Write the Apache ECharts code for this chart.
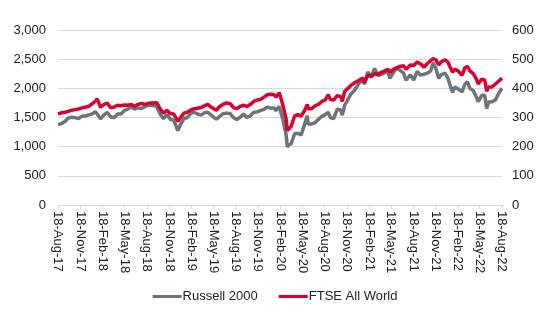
<!DOCTYPE html>
<html><head><meta charset="utf-8">
<script src="https://cdn.jsdelivr.net/npm/echarts@6/dist/echarts.min.js"></script>
<style>html,body{margin:0;padding:0;background:#fff}#c{width:550px;height:330px}</style>
</head><body><div id="c"></div>
<script>
var sampleDates = ["2017-08-18","2017-09-01","2017-09-15","2017-09-29","2017-10-13","2017-10-27","2017-11-10","2017-11-24","2017-12-08","2017-12-22",
"2018-01-05","2018-01-19","2018-01-26","2018-02-09","2018-02-23","2018-03-09","2018-03-23","2018-04-06","2018-04-20","2018-05-04","2018-05-18",
"2018-06-01","2018-06-15","2018-06-29","2018-07-13","2018-07-27","2018-08-10","2018-08-31","2018-09-14","2018-09-28","2018-10-12","2018-10-26",
"2018-11-09","2018-11-23","2018-12-07","2018-12-24","2019-01-04","2019-01-18","2019-02-01","2019-02-15","2019-03-01","2019-03-15","2019-03-29",
"2019-04-12","2019-04-26","2019-05-10","2019-05-31","2019-06-14","2019-06-28","2019-07-12","2019-07-26","2019-08-09","2019-08-23","2019-09-06",
"2019-09-20","2019-10-04","2019-10-18","2019-11-01","2019-11-15","2019-11-29","2019-12-13","2019-12-27","2020-01-10","2020-01-24","2020-01-31",
"2020-02-14","2020-02-21","2020-02-28","2020-03-06","2020-03-13","2020-03-18","2020-03-23","2020-04-03","2020-04-17","2020-04-30","2020-05-14",
"2020-05-29","2020-06-08","2020-06-12","2020-06-26","2020-07-10","2020-07-24","2020-08-07","2020-08-21","2020-09-02","2020-09-11","2020-09-25",
"2020-10-09","2020-10-23","2020-10-30","2020-11-09","2020-11-20","2020-12-04","2020-12-18","2021-01-08","2021-01-22","2021-01-29","2021-02-12",
"2021-02-26","2021-03-12","2021-03-26","2021-04-09","2021-04-23","2021-05-07","2021-05-14","2021-05-28","2021-06-08","2021-06-25","2021-07-09",
"2021-07-19","2021-08-06","2021-08-20","2021-09-03","2021-09-17","2021-10-01","2021-10-15","2021-10-29","2021-11-08","2021-11-19","2021-12-01",
"2021-12-10","2021-12-27","2022-01-07","2022-01-21","2022-01-27","2022-02-04","2022-02-18","2022-03-07","2022-03-18","2022-03-29","2022-04-08",
"2022-04-22","2022-05-06","2022-05-12","2022-05-27","2022-06-08","2022-06-16","2022-06-24","2022-07-08","2022-07-22","2022-08-05","2022-08-18"];
var russell2000 = [1378,1395,1430,1490,1505,1498,1480,1520,1525,1545,
1560,1600,1605,1477,1545,1585,1510,1500,1560,1560,1620,
1645,1680,1645,1665,1655,1685,1715,1705,1690,1560,1480,
1550,1470,1450,1275,1380,1480,1500,1570,1590,1560,1540,
1580,1590,1540,1470,1520,1565,1575,1570,1500,1465,1505,
1560,1500,1530,1590,1595,1620,1640,1675,1660,1665,1615,
1690,1680,1480,1450,1210,994,1030,1050,1220,1230,1200,
1395,1530,1390,1390,1410,1470,1520,1550,1590,1500,1480,
1640,1630,1540,1710,1790,1900,1960,2090,2160,2070,2280,
2200,2340,2220,2240,2270,2270,2170,2270,2340,2310,2260,
2140,2230,2140,2290,2230,2240,2260,2300,2440,2340,2170,
2230,2260,2180,1990,1930,2020,1990,1940,2070,2110,2000,
1960,1840,1770,1880,1880,1655,1765,1770,1800,1920,2000];
var ftseAllWorld = [312,316,318,321,325,327,329,333,335,338,
347,356,364,335,345,349,333,336,342,340,343,
342,345,338,345,348,345,350,350,351,330,315,
325,314,312,287,300,315,318,326,330,332,334,
340,345,335,325,338,345,350,348,335,330,338,
342,338,345,355,360,362,370,378,380,378,370,
385,381,345,340,295,255,250,270,305,310,305,
325,345,330,330,340,345,355,360,378,362,360,
375,372,355,390,398,410,418,428,435,420,445,
440,450,448,455,460,465,455,465,470,475,478,
465,480,478,490,484,472,485,495,502,498,480,
490,498,490,465,455,466,460,445,470,475,460,
450,430,415,432,428,390,405,405,415,425,435];
var yLeftTicks = [0,500,1000,1500,2000,2500,3000];
var yRightTicks = [0,100,200,300,400,500,600];

var MONTHS = ['Jan','Feb','Mar','Apr','May','Jun','Jul','Aug','Sep','Oct','Nov','Dec'];
function pad(n){return (n<10?'0':'')+n;}
var categories = [];
var d = new Date(Date.UTC(2017,7,18)), end = new Date(Date.UTC(2022,7,18));
while (d <= end) {
  categories.push(d.getUTCFullYear()+'-'+pad(d.getUTCMonth()+1)+'-'+pad(d.getUTCDate()));
  d = new Date(d.getTime()+86400000);
}
function buildSeries(vals){
  var m = {}; sampleDates.forEach(function(s,i){m[s]=vals[i];});
  return categories.map(function(c){return m[c]===undefined?null:m[c];});
}
function isLabelDay(idx, val){
  var p = val.split('-'); var mo = +p[1], dd = +p[2];
  return dd===18 && (mo===8||mo===11||mo===2||mo===5);
}
function fmtDate(val){
  var p = val.split('-');
  return +p[2]+'-'+MONTHS[+p[1]-1]+'-'+p[0].slice(2);
}
var chart = echarts.init(document.getElementById('c'));
var font = 'Liberation Sans, Arial, sans-serif';
chart.setOption({
  animation:false,
  grid:{left:58,right:48,top:30,bottom:125,containLabel:false},
  legend:{bottom:22,left:'center',itemWidth:29,itemHeight:3,itemGap:21,icon:'rect',
    textStyle:{fontFamily:font,fontSize:13,color:'#222',padding:[0,0,0,-4]},
    data:['Russell 2000','FTSE All World']},
  xAxis:{type:'category',data:categories,boundaryGap:false,
    axisLine:{lineStyle:{color:'#d9d9d9'}},
    axisTick:{interval:isLabelDay,length:4,lineStyle:{color:'#d9d9d9'}},
    axisLabel:{interval:isLabelDay,rotate:-90,formatter:fmtDate,margin:6,
      fontFamily:font,fontSize:13,color:'#222'}},
  yAxis:[
    {type:'value',min:yLeftTicks[0],max:yLeftTicks[yLeftTicks.length-1],interval:500,
     axisLine:{show:false},axisTick:{show:false},
     splitLine:{lineStyle:{color:'#d9d9d9'}},
     axisLabel:{margin:12,fontFamily:font,fontSize:13,color:'#222',
       formatter:function(v){return v.toLocaleString('en-US');}}},
    {type:'value',min:yRightTicks[0],max:yRightTicks[yRightTicks.length-1],interval:100,
     axisLine:{show:false},axisTick:{show:false},splitLine:{show:false},
     axisLabel:{margin:10,fontFamily:font,fontSize:13,color:'#222'}}
  ],
  series:[
    {name:'Russell 2000',type:'line',yAxisIndex:0,data:buildSeries(russell2000),connectNulls:true,
     showSymbol:false,symbol:'none',lineStyle:{color:'#6b737b',width:3.5},itemStyle:{color:'#6b737b'}},
    {name:'FTSE All World',type:'line',yAxisIndex:1,data:buildSeries(ftseAllWorld),connectNulls:true,
     showSymbol:false,symbol:'none',lineStyle:{color:'#d8002f',width:3.5},itemStyle:{color:'#d8002f'}}
  ]
});
</script></body></html>
